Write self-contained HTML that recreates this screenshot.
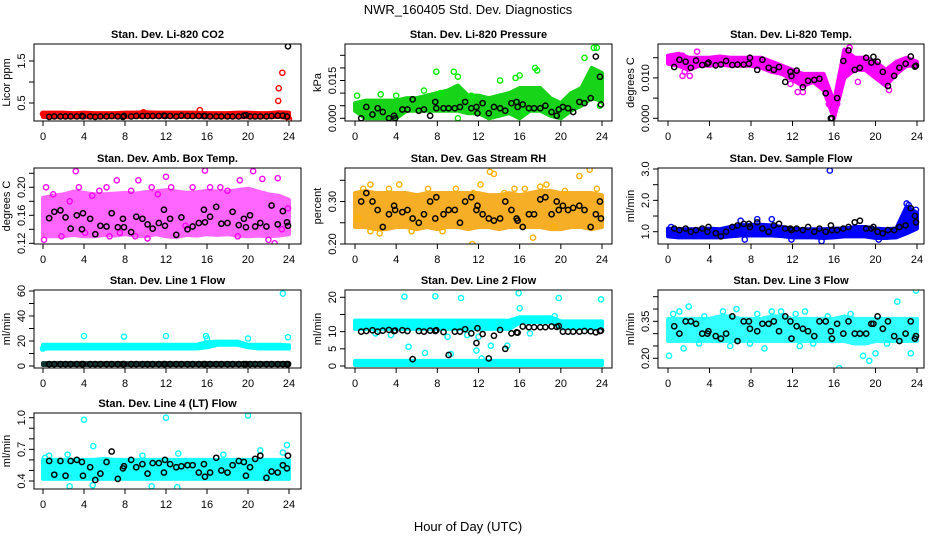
<!DOCTYPE html>
<html><head><meta charset="utf-8">
<style>
body{margin:0;background:#fff;}
svg{display:block;font-family:"Liberation Sans",Arial,sans-serif;}
</style></head>
<body>
<svg id="chart" width="936" height="540" viewBox="0 0 936 540">
<rect width="936" height="540" fill="#fff"/>
<text x="468" y="14" text-anchor="middle" font-size="13">NWR_160405  Std. Dev. Diagnostics</text>
<text x="468" y="531" text-anchor="middle" font-size="13">Hour of Day (UTC)</text>
</svg>
<script>
// ---------- data ----------
const xTicks = [0,4,8,12,16,20,24];
const blackHours = [0.6,1.1,1.7,2.2,2.7,3.3,3.8,3.9,4.6,5.1,5.6,6.2,6.7,7.3,7.8,7.9,8.6,9.1,9.7,10.2,10.7,11.3,11.8,11.9,12.4,13.0,13.5,14.1,14.6,15.2,15.7,15.8,16.3,16.9,17.4,18.0,18.5,19.1,19.6,19.8,20.2,20.7,21.2,21.8,22.3,22.9,23.4,23.8,23.9];

// Panel 1: Li-820 CO2
const p1Lo = [0.17,0.16,0.16,0.16,0.16,0.16,0.16,0.16,0.16,0.17,0.17,0.17,0.17,0.17,0.17,0.17,0.16,0.16,0.16,0.16,0.16,0.16,0.16,0.17,0.14];
const p1Hi = [0.27,0.27,0.27,0.26,0.27,0.26,0.26,0.26,0.27,0.27,0.28,0.27,0.27,0.27,0.27,0.27,0.26,0.26,0.26,0.27,0.27,0.26,0.26,0.28,0.27];
const p1OutX = [15.3,22.95,23.0,23.35,24.0,9.8,0.0];
const p1OutY = [0.33,0.55,0.85,1.22,0.12,0.28,0.24];
const p1Black = [0.17,0.18,0.18,0.18,0.18,0.18,0.19,0.18,0.18,0.17,0.18,0.18,0.19,0.18,0.17,0.19,0.18,0.19,0.19,0.19,0.19,0.19,0.2,0.19,0.19,0.18,0.2,0.19,0.19,0.19,0.19,0.19,0.18,0.18,0.18,0.18,0.18,0.18,0.2,0.21,0.18,0.18,0.18,0.18,0.19,0.2,0.2,0.18,1.85];
const p1Ticks = [0.5,1.0,1.5];
const p1Labels = ["0.5","","1.5"];

// Panel 2: Li-820 Pressure
const p2Lo = [0.003,0.000,0.000,0.000,0.000,0.003,0.003,0.003,0.003,0.003,0.003,0.002,0.002,0.000,0.001,0.002,0.000,0.003,0.003,0.001,0.000,0.003,0.005,0.008,0.007];
const p2Hi = [0.006,0.007,0.007,0.007,0.007,0.008,0.008,0.009,0.010,0.011,0.013,0.009,0.009,0.008,0.009,0.010,0.012,0.012,0.012,0.008,0.006,0.010,0.012,0.020,0.018];
const p2OutX = [0.2,4.0,6.7,7.9,9.6,10.0,10.0,11.3,14.1,15.6,16.0,17.7,17.5,22.3,23.2,23.5,23.8,13.0,16.5,8.3,2.5];
const p2OutY = [0.009,0.009,0.011,0.0185,0.0185,0.0165,0.0,0.009,0.015,0.016,0.017,0.019,0.020,0.024,0.028,0.028,0.005,0.002,0.0025,0.010,0.0095];
const p2Black = [0.000,0.0045,0.0015,0.004,0.0025,0.0,0.001,0.0,0.0035,0.0035,0.0075,0.003,0.0035,0.001,0.0065,0.004,0.004,0.004,0.004,0.0045,0.0065,0.004,0.0045,0.002,0.006,0.002,0.0045,0.004,0.003,0.006,0.0065,0.0045,0.0055,0.004,0.004,0.004,0.005,0.0025,0.001,0.0035,0.0045,0.004,0.0025,0.0065,0.006,0.008,0.0245,0.0165,0.0055];
const p2Ticks = [0,0.005,0.010,0.015,0.020,0.025];
const p2Labels = ["0.000","","","0.015","",""];

// Panel 3: Li-820 Temp
const p3Lo = [0.0135,0.013,0.012,0.013,0.013,0.0133,0.013,0.013,0.013,0.0125,0.0115,0.011,0.0095,0.008,0.009,0.007,0.000,0.010,0.012,0.012,0.010,0.008,0.011,0.013,0.013];
const p3Hi = [0.0155,0.016,0.015,0.015,0.015,0.0153,0.015,0.015,0.015,0.015,0.014,0.013,0.012,0.011,0.011,0.011,0.004,0.017,0.015,0.015,0.014,0.012,0.014,0.015,0.014];
const p3OutX = [1.4,2.8,1.6,2.1,1.4,12.5,13.0,15.8,16.3,15.5,18.3,21.3,21.6,17.5,11.8,15.6];
const p3OutY = [0.0155,0.0165,0.0115,0.0105,0.0105,0.0065,0.0065,0.0025,0.0035,0.0035,0.009,0.007,0.0115,0.0175,0.0085,0.0055];
const p3Black = [0.0127,0.0145,0.014,0.0125,0.0143,0.0132,0.0135,0.0138,0.0131,0.0133,0.0142,0.0132,0.0133,0.0133,0.0135,0.015,0.012,0.0145,0.0125,0.012,0.0127,0.009,0.0115,0.0105,0.0118,0.0077,0.0093,0.0095,0.0098,0.0062,0.0,0.0,0.005,0.0142,0.0168,0.012,0.0125,0.015,0.0138,0.0152,0.014,0.0115,0.008,0.0105,0.0125,0.0135,0.0153,0.0128,0.013];
const p3Ticks = [0,0.005,0.010,0.015];
const p3Labels = ["0.000","","0.010",""];

// Panel 4: Amb. Box Temp
const p4Lo = [0.13,0.13,0.13,0.132,0.13,0.13,0.132,0.131,0.133,0.131,0.13,0.133,0.13,0.129,0.132,0.131,0.133,0.132,0.133,0.131,0.13,0.131,0.13,0.131,0.133];
const p4Hi = [0.185,0.188,0.19,0.194,0.192,0.19,0.19,0.191,0.192,0.191,0.193,0.194,0.196,0.194,0.192,0.193,0.195,0.194,0.194,0.196,0.198,0.194,0.19,0.188,0.182];
const p4OutX = [0.1,0.3,1.8,2.6,3.2,3.5,4.1,4.8,6.2,7.2,7.5,8.6,9.3,10.2,10.6,12.0,12.5,13.9,14.6,15.8,16.3,17.3,19.2,20.5,21.4,22.0,22.6,22.9,23.3,23.9,6.5,9.0,19.0,1.0,5.5,11.2,18.0];
const p4OutY = [0.125,0.2,0.13,0.18,0.223,0.2,0.135,0.188,0.2,0.21,0.135,0.195,0.21,0.127,0.2,0.215,0.2,0.145,0.2,0.224,0.2,0.2,0.21,0.223,0.212,0.125,0.12,0.213,0.14,0.17,0.13,0.13,0.13,0.19,0.195,0.19,0.195];
const p4Black = [0.156,0.165,0.167,0.157,0.141,0.160,0.140,0.163,0.155,0.133,0.145,0.144,0.163,0.143,0.155,0.143,0.136,0.158,0.155,0.147,0.141,0.149,0.168,0.145,0.155,0.132,0.157,0.140,0.144,0.149,0.168,0.150,0.158,0.172,0.148,0.149,0.165,0.146,0.155,0.143,0.160,0.144,0.149,0.144,0.174,0.147,0.166,0.150,0.145];
const p4Ticks = [0.12,0.14,0.16,0.18,0.20,0.22];
const p4Labels = ["0.12","","0.16","","0.20",""];

// Panel 5: Gas Stream RH
const p5Lo = [0.24,0.24,0.235,0.235,0.24,0.24,0.235,0.24,0.235,0.24,0.24,0.235,0.24,0.24,0.235,0.24,0.24,0.24,0.24,0.235,0.235,0.24,0.24,0.235,0.24];
const p5Hi = [0.32,0.325,0.32,0.32,0.32,0.32,0.315,0.32,0.32,0.32,0.32,0.32,0.32,0.315,0.315,0.32,0.315,0.32,0.325,0.325,0.32,0.32,0.32,0.32,0.315];
const p5OutX = [0.3,0.8,1.5,2.4,3.3,4.3,5.5,7.1,8.5,9.8,11.5,12.2,13.1,13.5,14.5,15.5,16.5,17.3,18.0,18.6,20.4,22.8,21.8,11.4,23.5,1.5,19.3];
const p5OutY = [0.26,0.33,0.34,0.225,0.33,0.34,0.23,0.33,0.23,0.33,0.32,0.34,0.37,0.365,0.32,0.33,0.33,0.215,0.335,0.34,0.325,0.375,0.36,0.2,0.33,0.23,0.24];
const p5Black = [0.30,0.32,0.30,0.28,0.24,0.27,0.29,0.28,0.275,0.28,0.26,0.25,0.27,0.30,0.26,0.31,0.27,0.28,0.28,0.25,0.30,0.31,0.28,0.29,0.27,0.26,0.255,0.26,0.30,0.28,0.26,0.255,0.24,0.27,0.27,0.305,0.31,0.27,0.30,0.28,0.29,0.28,0.285,0.29,0.28,0.24,0.27,0.30,0.26];
const p5Ticks = [0.20,0.25,0.30,0.35];
const p5Labels = ["0.20","","0.30",""];

// Panel 6: Sample Flow
const p6Lo = [0.85,0.82,0.82,0.82,0.82,0.82,0.85,0.88,0.88,0.88,0.88,0.86,0.82,0.82,0.82,0.8,0.82,0.85,0.85,0.85,0.8,0.8,0.82,0.95,1.1];
const p6Hi = [1.1,1.08,1.08,1.08,1.1,1.08,1.15,1.2,1.22,1.22,1.2,1.15,1.1,1.08,1.08,1.08,1.1,1.1,1.15,1.15,1.1,1.08,1.1,1.8,1.6];
const p6OutX = [15.6,8.6,7.0,10.0,23.0,23.9,0.3,14.8,11.9,7.4,20.3,23.2];
const p6OutY = [2.95,1.4,1.35,1.4,1.9,1.7,1.15,0.7,0.75,0.75,0.75,1.85];
const p6Black = [1.1,1.05,1.1,1.0,1.05,1.1,1.0,1.15,0.95,0.85,1.0,1.15,1.2,1.25,1.25,1.15,1.3,1.1,1.0,1.2,1.25,1.1,1.1,1.05,1.1,1.05,1.15,1.0,1.1,1.0,1.2,1.05,1.05,1.1,1.15,1.3,1.35,1.1,1.1,1.15,1.0,0.95,1.05,1.05,1.15,1.2,1.75,1.5,1.3];
const p6Ticks = [1.0,1.5,2.0,2.5,3.0];
const p6Labels = ["1.0","","2.0","","3.0"];

// Panel 7: Line 1 Flow
const p7Lo = [14,14,14,14,14,14,14,14,14,14,14,14,14,14,14,14,15,17,17,17,15,14,14,14,14];
const p7Hi = [17,17,17,17,17,17,17,17,17,17,17,17,17,17,17,17,19,19.5,19.5,19.5,17,17,17,17,16.5];
const p7Lo2 = [0.8,0.8,0.8,0.8,0.8,0.8,0.8,0.8,0.8,0.8,0.8,0.8,0.8,0.8,0.8,0.8,0.8,0.8,0.8,0.8,0.8,0.8,0.8,0.8,0.8];
const p7Hi2 = [2.3,2.3,2.3,2.3,2.3,2.3,2.3,2.3,2.3,2.3,2.3,2.3,2.3,2.3,2.3,2.3,2.3,2.3,2.3,2.3,2.3,2.3,2.3,2.3,2.3];
const p7OutX = [4.0,7.9,12.0,15.9,16.0,20.0,23.4,23.9,0.0];
const p7OutY = [24,23.5,24,24,22,22,58,23,14];
const p7Black = blackHours.map(() => 1.5);
const p7Ticks = [0,10,20,30,40,50,60];
const p7Labels = ["0","","20","","40","","60"];

// Panel 8: Line 2 Flow
const p8Lo = [10.8,10.8,10.8,10.8,10.8,10.8,10.8,10.8,10.8,10.8,10.8,10.8,10.8,10.8,10.8,10.8,12.6,12.8,12.8,12.8,11,11,11,11,11];
const p8Hi = [13.2,13.2,13.2,13.2,13.2,13.2,13.2,13.2,13.2,13.2,13.2,13.2,13.2,13.2,13.2,13.2,14.2,14.2,14.2,14.2,13,13,13,13,13];
const p8Lo2 = [0.3,0.3,0.3,0.3,0.3,0.3,0.3,0.3,0.3,0.3,0.3,0.3,0.3,0.3,0.3,0.3,0.3,0.3,0.3,0.3,0.3,0.3,0.3,0.3,0.3];
const p8Hi2 = [1.5,1.5,1.5,1.5,1.5,1.5,1.5,1.5,1.5,1.5,1.5,1.5,1.5,1.5,1.5,1.5,1.5,1.5,1.5,1.5,1.5,1.5,1.5,1.5,1.5];
const p8OutX = [5.2,4.8,7.8,10.3,13.2,15.9,16.0,19.8,23.9,6.8,11.8,12.3,9.3,12.0,14.8,19.4,2.0,3.5,9.0,10.9,17.0];
const p8OutY = [5.6,20.2,20.3,19.8,5.9,21.2,16.8,19.8,19.4,3.8,4.5,2.2,3.5,8.5,5.9,14.5,9.5,9.0,8.5,9.0,9.5];
const p8Black = [10,10.2,10.4,10,10.3,10.5,10.2,10.3,10.4,10.2,2.0,10.2,10,10.3,10.2,10.4,9.9,3.2,10,10,10.7,9.5,6.7,11,9.3,2.2,8.8,10.5,5,9.5,9.8,9.7,11.5,11.3,11.3,11.3,11.3,11.5,11.4,11.6,10,10,10,10,10.2,10.1,9.8,10.2,10.3];
const p8Ticks = [0,5,10,15,20];
const p8Labels = ["0","5","10","","20"];

// Panel 9: Line 3 Flow
const p9Lo = [0.27,0.27,0.27,0.27,0.27,0.27,0.27,0.27,0.27,0.27,0.27,0.27,0.27,0.27,0.27,0.27,0.27,0.27,0.26,0.26,0.27,0.27,0.27,0.27,0.27];
const p9Hi = [0.36,0.36,0.36,0.36,0.36,0.37,0.37,0.36,0.36,0.36,0.37,0.37,0.36,0.36,0.36,0.36,0.36,0.37,0.36,0.36,0.36,0.36,0.36,0.36,0.36];
const p9OutX = [0.1,0.5,1.1,2.0,3.5,5.3,6.0,6.6,7.9,8.6,10.0,10.9,12.3,12.7,14.0,15.4,16.5,17.6,18.8,19.4,20.0,22.1,23.4,23.9,21.1,9.3,3.0,1.5,13.2];
const p9OutY = [0.21,0.38,0.39,0.41,0.37,0.39,0.25,0.40,0.26,0.38,0.39,0.39,0.38,0.25,0.26,0.37,0.16,0.38,0.21,0.19,0.22,0.43,0.22,0.475,0.26,0.24,0.26,0.24,0.39];
const p9Black = [0.33,0.30,0.35,0.35,0.34,0.30,0.30,0.31,0.29,0.28,0.30,0.37,0.27,0.35,0.35,0.32,0.31,0.34,0.34,0.35,0.31,0.37,0.35,0.28,0.33,0.32,0.31,0.29,0.35,0.35,0.31,0.28,0.34,0.30,0.35,0.30,0.30,0.30,0.34,0.34,0.37,0.32,0.35,0.29,0.27,0.30,0.35,0.28,0.29];
const p9Ticks = [0.20,0.25,0.30,0.35,0.40,0.45];
const p9Labels = ["0.20","","","0.35","",""];

// Panel 10: Line 4 (LT) Flow
const p10Lo = [0.42,0.42,0.42,0.42,0.42,0.42,0.42,0.42,0.42,0.42,0.42,0.42,0.42,0.42,0.42,0.42,0.42,0.42,0.42,0.42,0.42,0.42,0.42,0.42,0.42];
const p10Hi = [0.6,0.6,0.6,0.6,0.6,0.6,0.61,0.6,0.6,0.6,0.6,0.6,0.6,0.6,0.6,0.6,0.6,0.6,0.6,0.6,0.6,0.6,0.6,0.6,0.6];
const p10OutX = [4.0,12.0,20.0,4.9,23.8,21.2,2.6,10.6,13.1,4.85,0.2,2.4,13.2,17.6,23.4,0.6,9.7];
const p10OutY = [0.98,1.0,1.02,0.73,0.74,0.69,0.35,0.35,0.34,0.36,0.62,0.65,0.66,0.65,0.67,0.64,0.64];
const p10Black = [0.59,0.46,0.59,0.45,0.59,0.60,0.58,0.45,0.53,0.41,0.47,0.58,0.68,0.42,0.52,0.54,0.60,0.53,0.56,0.47,0.57,0.57,0.48,0.60,0.56,0.53,0.54,0.55,0.55,0.48,0.56,0.44,0.48,0.62,0.50,0.48,0.55,0.59,0.58,0.45,0.53,0.61,0.64,0.43,0.49,0.48,0.55,0.52,0.64];
const p10Ticks = [0.4,0.5,0.6,0.7,0.8,0.9,1.0];
const p10Labels = ["0.4","","","0.7","","","1.0"];

// ---------- layout ----------
const cols = [{l:34,r:301,x0:43,x24:289},{l:345,r:612,x0:355,x24:602},{l:658,r:924,x0:668,x24:917}];
const rows = [{t:44,b:121},{t:168,b:244},{t:290,b:368},{t:413,b:489}];
const panels = [
 {name:'co2',title:'Stan. Dev. Li-820 CO2',ylab:'Licor ppm',c:0,r:0,v1:0.5,y1:103,v2:1.5,y2:61,col:'#ff0000',band:'#ff0000',op:1,lo:p1Lo,hi:p1Hi,ox:p1OutX,oy:p1OutY,bk:p1Black,ticks:p1Ticks,labels:p1Labels},
 {name:'pressure',title:'Stan. Dev. Li-820 Pressure',ylab:'kPa',c:1,r:0,v1:0,y1:118.3,v2:0.025,y2:55.3,col:'#00ee00',band:'#00d000',op:0.9,lo:p2Lo,hi:p2Hi,ox:p2OutX,oy:p2OutY,bk:p2Black,ticks:p2Ticks,labels:p2Labels},
 {name:'temp',title:'Stan. Dev. Li-820 Temp.',ylab:'degrees C',c:2,r:0,v1:0,y1:118.3,v2:0.015,y2:57.7,col:'#ff00ff',band:'#ff00ff',op:1,lo:p3Lo,hi:p3Hi,ox:p3OutX,oy:p3OutY,bk:p3Black,ticks:p3Ticks,labels:p3Labels},
 {name:'amb-box-temp',title:'Stan. Dev. Amb. Box Temp.',ylab:'degrees C',c:0,r:1,v1:0.12,y1:243.3,v2:0.22,y2:173.3,col:'#ff00ff',band:'#ff00ff',op:0.6,lo:p4Lo,hi:p4Hi,ox:p4OutX,oy:p4OutY,bk:p4Black,ticks:p4Ticks,labels:p4Labels},
 {name:'gas-rh',title:'Stan. Dev. Gas Stream RH',ylab:'percent',c:1,r:1,v1:0.20,y1:244,v2:0.35,y2:180.3,col:'#ffb000',band:'#f4a000',op:0.85,lo:p5Lo,hi:p5Hi,ox:p5OutX,oy:p5OutY,bk:p5Black,ticks:p5Ticks,labels:p5Labels},
 {name:'sample-flow',title:'Stan. Dev. Sample Flow',ylab:'ml/min',c:2,r:1,v1:1.0,y1:231.7,v2:3.0,y2:169,col:'#0000ff',band:'#0000ff',op:1,lo:p6Lo,hi:p6Hi,ox:p6OutX,oy:p6OutY,bk:p6Black,ticks:p6Ticks,labels:p6Labels},
 {name:'line1-flow',title:'Stan. Dev. Line 1 Flow',ylab:'ml/min',c:0,r:2,v1:0,y1:366,v2:60,y2:291,col:'#00ffff',band:'#00ffff',op:1,lo:p7Lo,hi:p7Hi,lo2:p7Lo2,hi2:p7Hi2,band2:'#113333',ox:p7OutX,oy:p7OutY,bk:p7Black,ticks:p7Ticks,labels:p7Labels},
 {name:'line2-flow',title:'Stan. Dev. Line 2 Flow',ylab:'ml/min',c:1,r:2,v1:0,y1:366,v2:20,y2:297.3,col:'#00ffff',band:'#00ffff',op:1,lo:p8Lo,hi:p8Hi,lo2:p8Lo2,hi2:p8Hi2,band2:'#00ffff',ox:p8OutX,oy:p8OutY,bk:p8Black,ticks:p8Ticks,labels:p8Labels},
 {name:'line3-flow',title:'Stan. Dev. Line 3 Flow',ylab:'ml/min',c:2,r:2,v1:0.20,y1:358.3,v2:0.45,y2:296.7,col:'#00ffff',band:'#00ffff',op:0.8,lo:p9Lo,hi:p9Hi,ox:p9OutX,oy:p9OutY,bk:p9Black,ticks:p9Ticks,labels:p9Labels},
 {name:'line4-flow',title:'Stan. Dev. Line 4 (LT) Flow',ylab:'ml/min',c:0,r:3,v1:0.4,y1:481,v2:1.0,y2:417.7,col:'#00ffff',band:'#00ffff',op:0.9,lo:p10Lo,hi:p10Hi,ox:p10OutX,oy:p10OutY,bk:p10Black,ticks:p10Ticks,labels:p10Labels}
];

const NS = 'http://www.w3.org/2000/svg';
const svg = document.getElementById('chart');
function mk(tag, attrs, parent){
  const e = document.createElementNS(NS, tag);
  for (const k in attrs) e.setAttribute(k, attrs[k]);
  (parent||svg).appendChild(e);
  return e;
}

panels.forEach(p => {
  const C = cols[p.c], R = rows[p.r];
  const xs = h => C.x0 + (C.x24 - C.x0) * h / 24;
  const ys = v => p.y1 + (v - p.v1) * (p.y2 - p.y1) / (p.v2 - p.v1);
  const g = mk('g', {});
  
  
  const clipId = 'clip-' + p.name;
  const cp = mk('clipPath', {id: clipId}, g);
  mk('rect', {x: C.l, y: R.t, width: C.r - C.l, height: R.b - R.t}, cp);
  const plot = mk('g', {'clip-path': 'url(#' + clipId + ')'}, g);
  
  

  function band(lo, hi, color, op, nm){
    let pts = [];
    lo.forEach((v, i) => pts.push(xs(i) + ',' + ys(v)));
    for (let i = hi.length - 1; i >= 0; i--) pts.push(xs(i) + ',' + ys(hi[i]));
    const b = mk('polygon', {points: pts.join(' '), fill: color, stroke: color, 'stroke-width': 4, 'stroke-linejoin': 'round', opacity: op}, plot);
    
    
  }
  band(p.lo, p.hi, p.band, p.op, 'data-band-' + p.name);
  if (p.lo2) band(p.lo2, p.hi2, p.band2, 1, 'data-band-low-' + p.name);

  p.ox.forEach((h, i) => {
    const c = mk('circle', {cx: xs(h), cy: ys(p.oy[i]), r: 2.6, fill: 'none', stroke: p.col, 'stroke-width': 1.4}, plot);
    
    
  });
  p.bk.forEach((v, i) => {
    const c = mk('circle', {cx: xs(blackHours[i]), cy: ys(v), r: 2.6, fill: 'none', stroke: '#000', 'stroke-width': 1.5}, plot);
    
    
  });

  const box = mk('rect', {x: C.l, y: R.t, width: C.r - C.l, height: R.b - R.t, fill: 'none', stroke: '#000', 'stroke-width': 1}, g);
  
  

  const t = mk('text', {x: (C.l + C.r) / 2, y: R.t - 6, 'text-anchor': 'middle', 'font-size': 11, 'font-weight': 'bold'}, g);
  t.textContent = p.title;
  
  

  const xa = mk('g', {}, g);
  
  
  mk('line', {x1: xs(0), x2: xs(24), y1: R.b, y2: R.b, stroke: '#000'}, xa);
  xTicks.forEach(h => {
    mk('line', {x1: xs(h), x2: xs(h), y1: R.b, y2: R.b + 5, stroke: '#000'}, xa);
    const tl = mk('text', {x: xs(h), y: R.b + 19, 'text-anchor': 'middle', 'font-size': 11}, xa);
    tl.textContent = h;
    
    
  });

  const ya = mk('g', {}, g);
  
  
  const t0 = p.ticks[0], tn = p.ticks[p.ticks.length - 1];
  mk('line', {x1: C.l, x2: C.l, y1: ys(t0), y2: ys(tn), stroke: '#000'}, ya);
  p.ticks.forEach((v, i) => {
    mk('line', {x1: C.l - 5, x2: C.l, y1: ys(v), y2: ys(v), stroke: '#000'}, ya);
    if (p.labels[i]) {
      const X = C.l - 9, Y = ys(v);
      const tl = mk('text', {x: X, y: Y, 'text-anchor': 'middle', 'font-size': 11, transform: 'rotate(-90 ' + X + ' ' + Y + ')'}, ya);
      tl.textContent = p.labels[i];
      
      
    }
  });
  const YX = C.l - 24, YY = (R.t + R.b) / 2;
  const yl = mk('text', {x: YX, y: YY, 'text-anchor': 'middle', 'font-size': 11, transform: 'rotate(-90 ' + YX + ' ' + YY + ')'}, g);
  yl.textContent = p.ylab;
  
  
});
</script>
</body></html>
